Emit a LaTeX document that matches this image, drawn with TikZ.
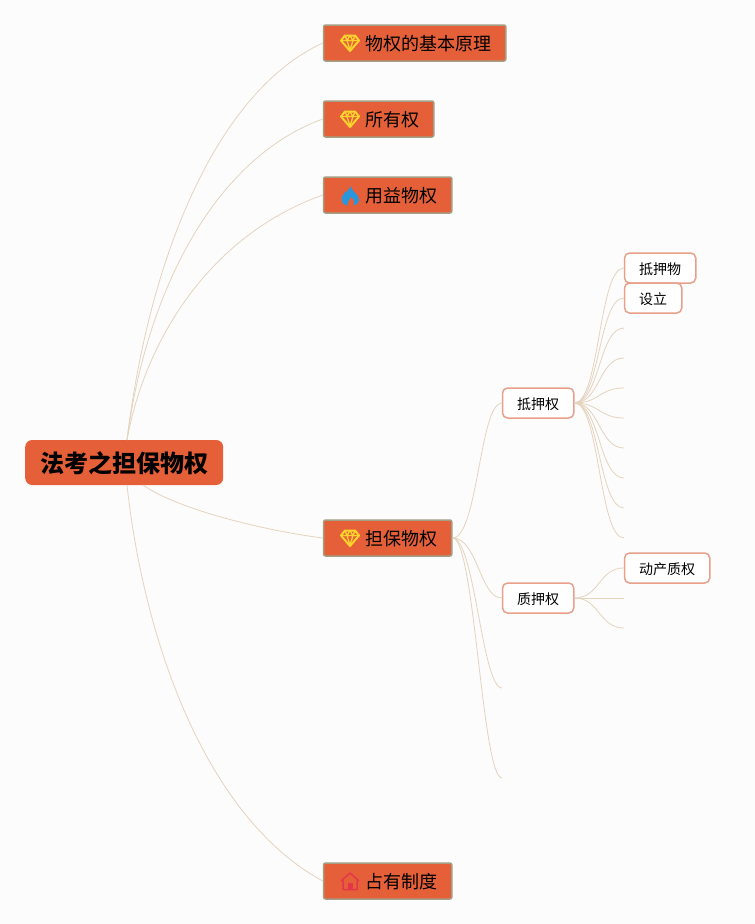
\documentclass[tikz,border=0pt]{standalone}
\usepackage{fontspec}
\setmainfont{Noto Sans CJK SC}
\definecolor{bgc}{HTML}{FCFCFC}
\definecolor{boxfill}{HTML}{E56038}
\definecolor{boxedge}{HTML}{A39E84}
\definecolor{leafedge}{HTML}{E8A08A}
\definecolor{linkc}{HTML}{E4D4BE}
\definecolor{gemc}{HTML}{FDD32E}
\definecolor{flamec}{HTML}{2A96DC}
\definecolor{housec}{HTML}{E5354B}
\tikzset{
  rootbox/.style={draw=none,fill=boxfill,rounded corners=7pt,anchor=west,inner xsep=15pt,inner ysep=0pt,minimum height=45pt,text height=24pt,text depth=3.4pt,font=\fontsize{24}{28}\selectfont\bfseries},
  mainbox/.style={draw=boxedge,line width=1.5pt,fill=boxfill,rounded corners=2pt,anchor=west,inner xsep=14.25pt,inner ysep=0pt,minimum height=36pt,text height=18pt,text depth=2.3pt,font=\fontsize{18}{22}\selectfont},
  leafbox/.style={draw=leafedge,line width=1.5pt,fill=white,rounded corners=5pt,anchor=west,inner xsep=14.6pt,inner ysep=0pt,minimum height=30pt,text height=14pt,text depth=1.4pt,font=\fontsize{14}{18}\selectfont},
  link/.style={draw=linkc,line width=0.8pt}
}
\newcommand{\gemicon}[2]{%
  \begin{scope}[shift={(#1,#2)},gemc,line join=round]
    \draw[line width=2pt] (-5,-7.5) -- (5,-7.5) -- (9,-2.5) -- (0,8) -- (-9,-2.5) -- cycle;
    \draw[line width=1.3pt] (-9,-2.5) -- (9,-2.5) (-3,-2.5) -- (0,7) -- (3,-2.5) (-5,-7.5) -- (-3,-2.5) -- (0,-7.5) -- (3,-2.5) -- (5,-7.5);
  \end{scope}}
\begin{document}
\begin{tikzpicture}[x=1pt,y=-1pt]
\useasboundingbox (0,0) rectangle (755,924);
\fill[bgc] (0,0) rectangle (755,924);
% nodes
\node[rootbox] (root) at (25,462.5) {法考之担保物权};
\node[mainbox] (n1) at (322.8,43) {\hspace{27.8pt}物权的基本原理};
\node[mainbox] (n2) at (322.8,119) {\hspace{27.8pt}所有权};
\node[mainbox] (n3) at (322.8,195) {\hspace{27.8pt}用益物权};
\node[mainbox] (n4) at (322.8,538) {\hspace{27.8pt}担保物权};
\node[mainbox] (n5) at (322.8,881) {\hspace{27.8pt}占有制度};
\node[leafbox] (dyq) at (501.8,403) {抵押权};
\node[leafbox] (zyq) at (501.8,598) {质押权};
\node[leafbox] (dyw) at (623.8,268) {抵押物};
\node[leafbox] (sl) at (623.8,298) {设立};
\node[leafbox] (dc) at (623.8,568) {动产质权};
% anchors and free ends
\coordinate (rt) at (127,440);
\coordinate (rb) at (127,485);
\coordinate (rr) at (143,485);
\coordinate (a1) at (624,328);
\coordinate (a2) at (624,358);
\coordinate (a3) at (624,388);
\coordinate (a4) at (624,418);
\coordinate (a5) at (624,448);
\coordinate (a6) at (624,478);
\coordinate (a7) at (624,508);
\coordinate (a8) at (624,538);
\coordinate (b1) at (624,598);
\coordinate (b2) at (624,628);
\coordinate (c1) at (502,688);
\coordinate (c2) at (502,778);
% connectors
\draw[link] (rt) .. controls (150,250) and (220,90) .. (n1.west);
\draw[link] (rt) .. controls (145,300) and (210,160) .. (n2.west);
\draw[link] (rt) .. controls (145,340) and (210,235) .. (n3.west);
\draw[link] (rr) .. controls (175,508) and (260,530) .. (n4.west);
\draw[link] (rb) .. controls (145,650) and (210,820) .. (n5.west);
\draw[link] (n4.east) .. controls +(25,0) and +(-22,0) .. (dyq.west);
\draw[link] (n4.east) .. controls +(25,0) and +(-22,0) .. (zyq.west);
\draw[link] (n4.east) .. controls +(22,0) and +(-20,0) .. (c1);
\draw[link] (n4.east) .. controls +(22,0) and +(-20,0) .. (c2);
\foreach \t in {dyw.west,sl.west,a1,a2,a3,a4,a5,a6,a7,a8}
  \draw[link] (dyq.east) .. controls +(25,0) and +(-25,0) .. (\t);
\foreach \t in {dc.west,b1,b2}
  \draw[link] (zyq.east) .. controls +(25,0) and +(-25,0) .. (\t);
% icons
\gemicon{350}{43}
\gemicon{350}{119}
\gemicon{350}{538}
\fill[flamec] (350.5,186) .. controls (351,191) and (359,194) .. (359,199.5)
  .. controls (359,203) and (356.5,205) .. (353.5,205.5)
  .. controls (355,203) and (354.5,199) .. (351,197)
  .. controls (350.5,199.5) and (347,201) .. (347.5,205.5)
  .. controls (344,205) and (341.5,202.5) .. (341.5,199)
  .. controls (341.5,195) and (345,194.5) .. (345.5,191.5)
  .. controls (347,192.5) and (349,189.5) .. (350.5,186) -- cycle;
\draw[housec,line width=1.5pt,line join=round] (350,873) -- (358.5,880.5) -- (357,880.5) -- (357,889.5) -- (343,889.5) -- (343,880.5) -- (341.5,880.5) -- cycle;
\fill[housec] (347.5,883) rectangle (352.5,889.5);
\end{tikzpicture}
\end{document}
